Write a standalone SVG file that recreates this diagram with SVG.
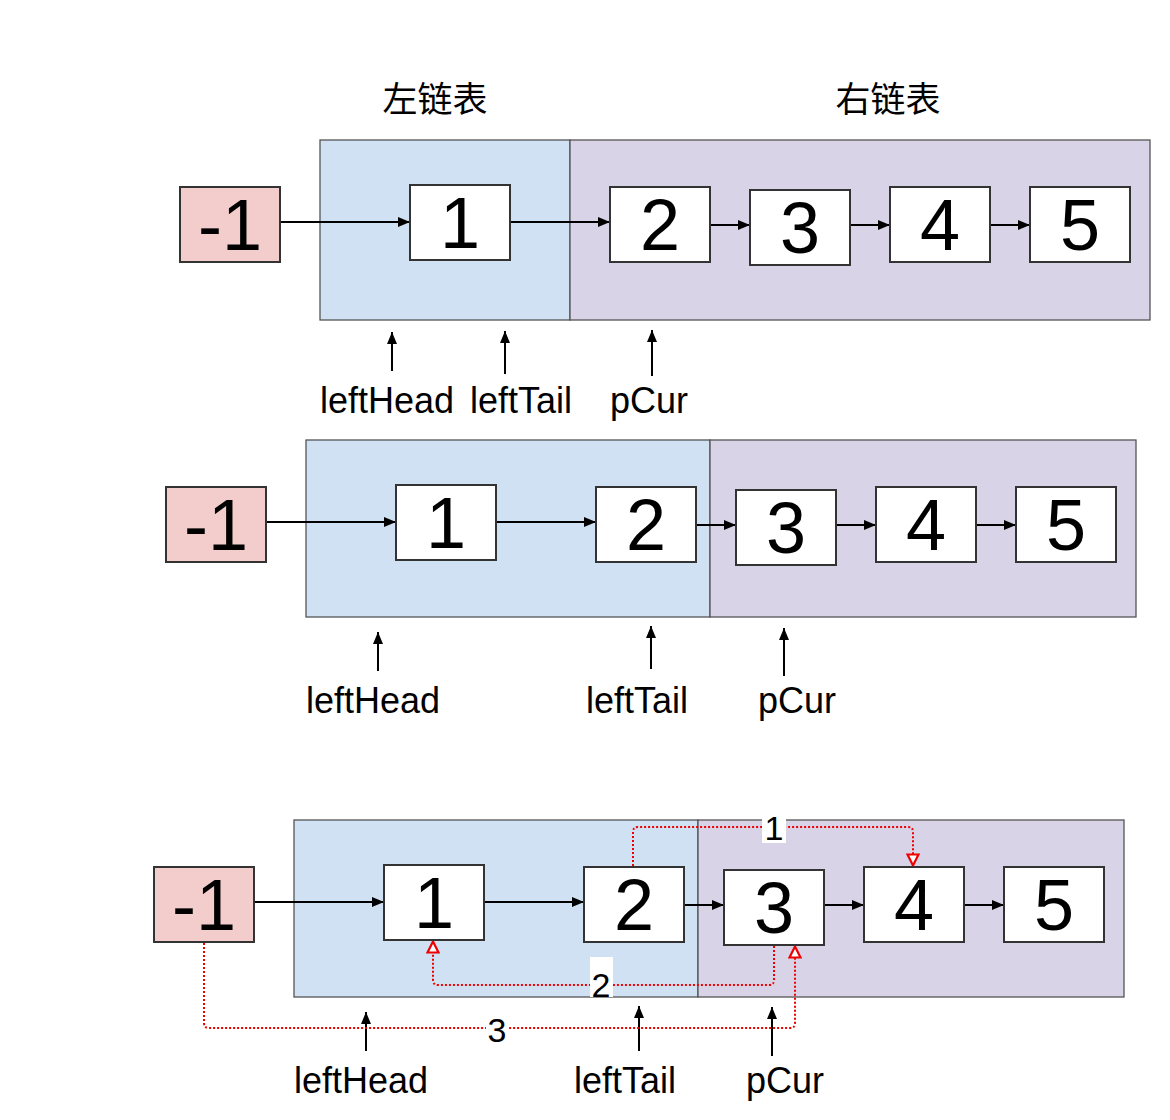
<svg xmlns="http://www.w3.org/2000/svg" width="1170" height="1120" viewBox="0 0 1170 1120">
<style>
.bg{fill:#ffffff}
.left{fill:#cfe1f2;stroke:#555;stroke-width:1.3}
.right{fill:#d9d3e8;stroke:#555;stroke-width:1.3}
.head{fill:#f3cccc;stroke:#333;stroke-width:2}
.node{fill:#ffffff;stroke:#333;stroke-width:2}
.num{font-family:"Liberation Sans",Arial,sans-serif;font-size:72px;fill:#000;text-anchor:middle}
.lbl{font-family:"Liberation Sans",Arial,sans-serif;font-size:36px;fill:#000;text-anchor:middle}
.cn{font-family:"Liberation Sans","Noto Sans CJK SC",sans-serif;font-size:35px;fill:#000;text-anchor:middle}
.step{font-family:"Liberation Sans",Arial,sans-serif;font-size:34px;fill:#000;text-anchor:middle}
.link{stroke:#000;stroke-width:2;fill:none;marker-end:url(#ah)}
.ptr{stroke:#000;stroke-width:2;fill:none;marker-end:url(#ah)}
.red{stroke:#ee0000;stroke-width:2;stroke-dasharray:2 2;fill:none;marker-end:url(#rh)}
</style>
<defs>
<marker id="ah" viewBox="0 0 12 12" refX="12" refY="6" markerWidth="12" markerHeight="12" markerUnits="userSpaceOnUse" orient="auto">
<path d="M0,1 L12,6 L0,11 Z" fill="#000"/>
</marker>
<marker id="rh" viewBox="0 0 14 14" refX="13" refY="7" markerWidth="14" markerHeight="14" markerUnits="userSpaceOnUse" orient="auto">
<path d="M1.5,1.5 L12.5,7 L1.5,12.5 Z" fill="#fff" stroke="#ee0000" stroke-width="2.2"/>
</marker>
</defs>
<rect class="bg" x="0" y="0" width="1170" height="1120"/>

<!-- Diagram 1 -->
<g id="d1-containers">
<rect class="left" x="320" y="140" width="250" height="180"/>
<rect class="right" x="570" y="140" width="580" height="180"/>
</g>
<text class="cn" x="435" y="112">左链表</text>
<text class="cn" x="888" y="112">右链表</text>
<g id="d1-connectors">
<line class="link" x1="281" y1="222" x2="410" y2="222"/>
<line class="link" x1="511" y1="222" x2="610" y2="222"/>
<line class="link" x1="711" y1="225" x2="750" y2="225"/>
<line class="link" x1="851" y1="225" x2="890" y2="225"/>
<line class="link" x1="991" y1="225" x2="1030" y2="225"/>
<line class="ptr" x1="392" y1="371" x2="392" y2="332"/>
<line class="ptr" x1="505" y1="374" x2="505" y2="331"/>
<line class="ptr" x1="652" y1="376" x2="652" y2="330"/>
</g>
<g id="d1-n-1"><rect class="head" x="180" y="187" width="100" height="75"/><text class="num" x="230" y="250">-1</text></g>
<g id="d1-n1"><rect class="node" x="410" y="185" width="100" height="75"/><text class="num" x="460" y="248">1</text></g>
<g id="d1-n2"><rect class="node" x="610" y="187" width="100" height="75"/><text class="num" x="660" y="250">2</text></g>
<g id="d1-n3"><rect class="node" x="750" y="190" width="100" height="75"/><text class="num" x="800" y="253">3</text></g>
<g id="d1-n4"><rect class="node" x="890" y="187" width="100" height="75"/><text class="num" x="940" y="250">4</text></g>
<g id="d1-n5"><rect class="node" x="1030" y="187" width="100" height="75"/><text class="num" x="1080" y="250">5</text></g>
<text class="lbl" x="387" y="413">leftHead</text>
<text class="lbl" x="521" y="413">leftTail</text>
<text class="lbl" x="649" y="413">pCur</text>

<!-- Diagram 2 -->
<g id="d2-containers">
<rect class="left" x="306" y="440" width="404" height="177"/>
<rect class="right" x="710" y="440" width="426" height="177"/>
</g>
<g id="d2-connectors">
<line class="link" x1="267" y1="522" x2="396" y2="522"/>
<line class="link" x1="497" y1="522" x2="596" y2="522"/>
<line class="link" x1="697" y1="525" x2="736" y2="525"/>
<line class="link" x1="837" y1="525" x2="876" y2="525"/>
<line class="link" x1="977" y1="525" x2="1016" y2="525"/>
<line class="ptr" x1="378" y1="671" x2="378" y2="632"/>
<line class="ptr" x1="651" y1="669" x2="651" y2="626"/>
<line class="ptr" x1="784" y1="676" x2="784" y2="628"/>
</g>
<g id="d2-n-1"><rect class="head" x="166" y="487" width="100" height="75"/><text class="num" x="216" y="550">-1</text></g>
<g id="d2-n1"><rect class="node" x="396" y="485" width="100" height="75"/><text class="num" x="446" y="548">1</text></g>
<g id="d2-n2"><rect class="node" x="596" y="487" width="100" height="75"/><text class="num" x="646" y="550">2</text></g>
<g id="d2-n3"><rect class="node" x="736" y="490" width="100" height="75"/><text class="num" x="786" y="553">3</text></g>
<g id="d2-n4"><rect class="node" x="876" y="487" width="100" height="75"/><text class="num" x="926" y="550">4</text></g>
<g id="d2-n5"><rect class="node" x="1016" y="487" width="100" height="75"/><text class="num" x="1066" y="550">5</text></g>
<text class="lbl" x="373" y="713">leftHead</text>
<text class="lbl" x="637" y="713">leftTail</text>
<text class="lbl" x="797" y="713">pCur</text>

<!-- Diagram 3 -->
<g id="d3-containers">
<rect class="left" x="294" y="820" width="404" height="177"/>
<rect class="right" x="698" y="820" width="426" height="177"/>
</g>
<g id="d3-connectors">
<line class="link" x1="255" y1="902" x2="384" y2="902"/>
<line class="link" x1="485" y1="902" x2="584" y2="902"/>
<line class="link" x1="685" y1="905" x2="724" y2="905"/>
<line class="link" x1="825" y1="905" x2="864" y2="905"/>
<line class="link" x1="965" y1="905" x2="1004" y2="905"/>
<line class="ptr" x1="366" y1="1051" x2="366" y2="1012"/>
<line class="ptr" x1="639" y1="1051" x2="639" y2="1006"/>
<line class="ptr" x1="772" y1="1056" x2="772" y2="1007"/>
<path class="red" d="M633,866 L633,832 Q633,827 638,827 L908,827 Q913,827 913,832 L913,866"/>
<path class="red" d="M774,946 L774,980 Q774,985 769,985 L438,985 Q433,985 433,980 L433,941"/>
<path class="red" d="M204,943 L204,1023 Q204,1028 209,1028 L790,1028 Q795,1028 795,1023 L795,946"/>
<rect x="762" y="813" width="24" height="30" fill="#fff"/>
<text class="step" x="774" y="840">1</text>
<rect x="590" y="957" width="23" height="40" fill="#fff"/>
<text class="step" x="601" y="997">2</text>
<rect x="486" y="1014" width="23" height="30" fill="#fff"/>
<text class="step" x="497" y="1042">3</text>
</g>
<g id="d3-n-1"><rect class="head" x="154" y="867" width="100" height="75"/><text class="num" x="204" y="930">-1</text></g>
<g id="d3-n1"><rect class="node" x="384" y="865" width="100" height="75"/><text class="num" x="434" y="928">1</text></g>
<g id="d3-n2"><rect class="node" x="584" y="867" width="100" height="75"/><text class="num" x="634" y="930">2</text></g>
<g id="d3-n3"><rect class="node" x="724" y="870" width="100" height="75"/><text class="num" x="774" y="933">3</text></g>
<g id="d3-n4"><rect class="node" x="864" y="867" width="100" height="75"/><text class="num" x="914" y="930">4</text></g>
<g id="d3-n5"><rect class="node" x="1004" y="867" width="100" height="75"/><text class="num" x="1054" y="930">5</text></g>
<text class="lbl" x="361" y="1093">leftHead</text>
<text class="lbl" x="625" y="1093">leftTail</text>
<text class="lbl" x="785" y="1093">pCur</text>
</svg>
